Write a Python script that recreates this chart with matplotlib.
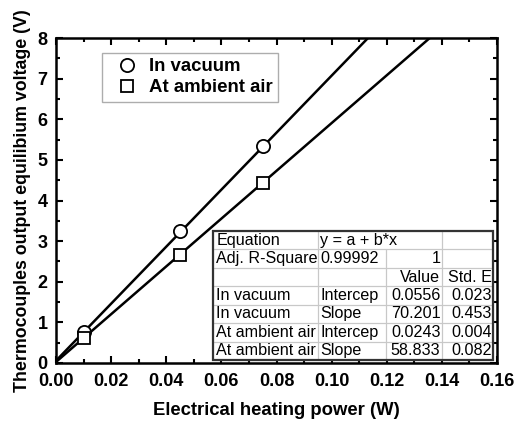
import numpy as np
import matplotlib.pyplot as plt
from matplotlib.patches import Rectangle
from matplotlib.ticker import MultipleLocator

plt.rcParams['font.family'] = ['Liberation Sans', 'DejaVu Sans']

# measured points
power = [0.01, 0.045, 0.075]
v_vacuum = [0.75, 3.25, 5.33]
v_air = [0.61, 2.67, 4.43]

# linear fit results (from the table)
a_vac, b_vac = 0.0556, 70.201
a_air, b_air = 0.0243, 58.833

table_rows = [
    ['Equation', 'y = a + b*x', '', ''],
    ['Adj. R-Square', '0.99992', '1', ''],
    ['', '', 'Value', 'Std. E'],
    ['In vacuum', 'Intercep', '0.0556', '0.023'],
    ['In vacuum', 'Slope', '70.201', '0.453'],
    ['At ambient air', 'Intercep', '0.0243', '0.004'],
    ['At ambient air', 'Slope', '58.833', '0.082'],
]

fig = plt.figure(figsize=(5.14, 4.23), dpi=100)
ax = fig.add_axes([0.109, 0.142, 0.858, 0.768])

x = np.linspace(0, 0.16, 200)
ax.plot(x, a_vac + b_vac * x, color='black', lw=1.8, zorder=2)
ax.plot(x, a_air + b_air * x, color='black', lw=1.8, zorder=2)
ax.plot(power, v_vacuum, 'o', ms=9.5, mfc='white', mec='black', mew=1.3,
        ls='none', label='In vacuum', zorder=3)
ax.plot(power, v_air, 's', ms=8.5, mfc='white', mec='black', mew=1.3,
        ls='none', label='At ambient air', zorder=3)

ax.set_xlim(0, 0.16)
ax.set_ylim(0, 8)
ax.xaxis.set_major_locator(MultipleLocator(0.02))
ax.xaxis.set_minor_locator(MultipleLocator(0.01))
ax.yaxis.set_major_locator(MultipleLocator(1))
ax.yaxis.set_minor_locator(MultipleLocator(0.5))
ax.xaxis.set_major_formatter(lambda v, p: '%.2f' % v)
ax.tick_params(which='both', direction='in', top=True, right=True, width=1.5)
ax.tick_params(which='major', length=5, labelsize=13)
ax.tick_params(axis='x', which='major', pad=7)
ax.tick_params(axis='y', which='major', pad=6)
ax.tick_params(which='minor', length=3)
for lab in ax.get_xticklabels() + ax.get_yticklabels():
    lab.set_fontweight('bold')
for s in ax.spines.values():
    s.set_linewidth(1.8)

ax.set_xlabel('Electrical heating power (W)', fontsize=13.3, fontweight='bold', labelpad=9)
ax.set_ylabel('Thermocouples output equilibium voltage (V)', fontsize=12.8,
              fontweight='bold', labelpad=5)

leg = ax.legend(loc='upper left', bbox_to_anchor=(0.105, 0.955),
                prop={'weight': 'bold', 'size': 13.4}, fancybox=False,
                edgecolor='#999999', borderpad=0.3, handletextpad=0.2,
                labelspacing=0.2, handlelength=2.0, borderaxespad=0)
leg.get_frame().set_linewidth(1.0)

# fit-result table
tbox = [0.356, 0.009, 0.635, 0.397]
ax.add_patch(Rectangle(tbox[:2], tbox[2], tbox[3], transform=ax.transAxes,
                       facecolor='white', edgecolor='none', zorder=3.5))
tb = ax.table(cellText=table_rows, cellLoc='left',
              colWidths=[105, 68, 56, 51], bbox=tbox, zorder=4)
tb.auto_set_font_size(False)
for (r, c), cell in tb.get_celld().items():
    cell.set_facecolor('none')
    cell.set_edgecolor('#c8c8c8')
    cell.set_linewidth(0.8)
    cell.PAD = 0.03
    cell.get_text().set_fontsize(11.6)
    if c >= 2:
        cell.get_text().set_ha('right')
        cell._loc = 'right'
tb[0, 1].visible_edges = 'BLT'
tb[0, 2].visible_edges = 'BRT'
ax.add_patch(Rectangle(tbox[:2], tbox[2], tbox[3], transform=ax.transAxes,
                       fill=False, edgecolor='#333333', lw=1.6, zorder=5))

fig.savefig('out.png', dpi=100)
